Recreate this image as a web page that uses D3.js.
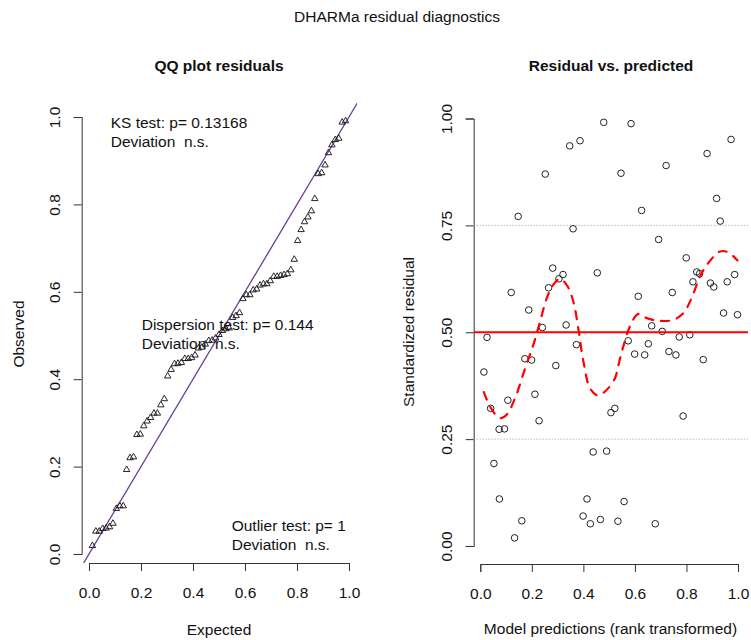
<!DOCTYPE html>
<html>
<head>
<meta charset="utf-8">
<script src="https://cdn.jsdelivr.net/npm/d3@7"></script>
<style>
  html, body { margin: 0; padding: 0; background: #fff; }
  svg { display: block; font-family: "Liberation Sans", Arial, Helvetica, sans-serif; }
  text { fill: #111; white-space: pre; }
</style>
</head>
<body>
<svg id="chart" width="751" height="640"></svg>
<script>
// Rank-transformed model predictions (x of the residual plot)
const predRank = [0.014,0.026,0.040,0.053,0.073,0.074,0.094,0.107,0.120,0.133,
  0.147,0.161,0.173,0.188,0.199,0.212,0.228,0.241,0.252,0.265,
  0.281,0.293,0.305,0.321,0.333,0.347,0.360,0.373,0.387,0.399,
  0.414,0.427,0.438,0.454,0.466,0.479,0.490,0.507,0.522,0.534,
  0.546,0.558,0.574,0.585,0.599,0.613,0.626,0.638,0.652,0.665,
  0.679,0.692,0.706,0.721,0.732,0.745,0.759,0.772,0.787,0.799,
  0.813,0.825,0.840,0.851,0.865,0.880,0.893,0.906,0.917,0.931,
  0.944,0.958,0.973,0.987,0.998];

// Scaled (standardized) residuals, same order as predRank
const residuals = [0.407,0.488,0.322,0.193,0.273,0.110,0.274,0.341,0.593,0.019,
  0.771,0.059,0.438,0.552,0.435,0.355,0.293,0.511,0.870,0.604,
  0.650,0.422,0.625,0.635,0.517,0.936,0.742,0.471,0.948,0.070,
  0.110,0.052,0.220,0.639,0.062,0.991,0.222,0.312,0.322,0.058,
  0.872,0.104,0.480,0.988,0.449,0.584,0.785,0.447,0.473,0.515,
  0.052,0.717,0.502,0.890,0.455,0.593,0.447,0.489,0.304,0.674,
  0.494,0.618,0.641,0.637,0.436,0.918,0.615,0.606,0.813,0.760,
  0.545,0.618,0.951,0.635,0.541];

// Smoothing spline through the residuals (x, fitted value)
const splineX = [0.014,0.038,0.076,0.102,0.135,0.174,0.206,0.232,0.258,0.283,
  0.309,0.335,0.361,0.380,0.400,0.426,0.456,0.490,0.523,0.533,
  0.555,0.581,0.613,0.646,0.691,0.749,0.788,0.820,0.853,0.885,
  0.930,0.962,0.998];
const splineY = [0.360,0.326,0.299,0.307,0.346,0.416,0.471,0.525,0.580,0.611,
  0.625,0.611,0.572,0.510,0.432,0.369,0.352,0.365,0.393,0.416,
  0.467,0.514,0.543,0.533,0.527,0.529,0.545,0.580,0.631,0.662,
  0.689,0.687,0.668];

// Tick values and labels
const qqTicks = [0, 0.2, 0.4, 0.6, 0.8, 1.0];
const resYTicks = [0, 0.25, 0.5, 0.75, 1.0];
const quantileLines = [0.25, 0.75];

// Test annotations
const ksText = ["KS test: p= 0.13168", "Deviation  n.s."];
const dispText = ["Dispersion test: p= 0.144", "Deviation  n.s."];
const outText = ["Outlier test: p= 1", "Deviation  n.s."];

const svg = d3.select("#chart");
const FS = "15.5px";

// ---------- layout ----------
const L = { left: 81.7, right: 357, top: 103, bottom: 563 };
const R = { left: 473.7, right: 748, top: 100, bottom: 564 };

const xL = d3.scaleLinear().domain([0, 1]).range([89, 349]);
const yL = d3.scaleLinear().domain([0, 1]).range([554, 117]);
const xR = d3.scaleLinear().domain([0, 1]).range([480.3, 738]);
const yR = d3.scaleLinear().domain([0, 1]).range([546, 118.5]);

const defs = svg.append("defs");
defs.append("clipPath").attr("id", "clipL").append("rect")
  .attr("x", L.left).attr("y", L.top).attr("width", L.right - L.left).attr("height", L.bottom - L.top);
defs.append("clipPath").attr("id", "clipR").append("rect")
  .attr("x", R.left).attr("y", R.top).attr("width", R.right - R.left).attr("height", R.bottom - R.top);

// ---------- titles ----------
svg.append("text").attr("x", 397).attr("y", 22).attr("text-anchor", "middle")
  .style("font-size", FS).text("DHARMa residual diagnostics");
svg.append("text").attr("x", 219).attr("y", 70.5).attr("text-anchor", "middle")
  .style("font-size", FS).style("font-weight", "bold").text("QQ plot residuals");
svg.append("text").attr("x", 611).attr("y", 70.5).attr("text-anchor", "middle")
  .style("font-size", FS).style("font-weight", "bold").text("Residual vs. predicted");

// ---------- axis helpers ----------
function styleAxis(g) {
  g.selectAll("path.domain").attr("stroke", "#333").attr("stroke-width", 1);
  g.selectAll(".tick line").attr("stroke", "#333").attr("stroke-width", 1);
  g.selectAll(".tick text").style("font-size", FS).style("font-family", "inherit").attr("fill", "#111");
}
function bottomAxis(scale, yPos, fmt) {
  const g = svg.append("g").attr("transform", `translate(0,${yPos})`)
    .call(d3.axisBottom(scale).tickValues(qqTicks).tickFormat(fmt).tickSizeOuter(0).tickSize(8));
  styleAxis(g);
  g.selectAll(".tick text").attr("y", 35).attr("dy", 0);
  return g;
}
function leftAxis(scale, xPos, ticks, fmt) {
  const g = svg.append("g").attr("transform", `translate(${xPos},0)`)
    .call(d3.axisLeft(scale).tickValues(ticks).tickFormat(fmt).tickSizeOuter(0).tickSize(8));
  styleAxis(g);
  g.selectAll(".tick text").attr("x", 0).attr("y", 0).attr("dy", 0)
    .attr("text-anchor", "middle").attr("transform", "translate(-21.7,0) rotate(-90)");
  return g;
}

// ---------- left panel: QQ plot ----------
bottomAxis(xL, L.bottom, d3.format(".1f"));
leftAxis(yL, L.left, qqTicks, d3.format(".1f"));

svg.append("text").attr("x", 219).attr("y", 635).attr("text-anchor", "middle")
  .style("font-size", FS).text("Expected");
svg.append("text").attr("transform", "translate(23.5,334) rotate(-90)").attr("text-anchor", "middle")
  .style("font-size", FS).text("Observed");

const observed = residuals.slice().sort(d3.ascending);
const n = observed.length;
const qq = observed.map((v, i) => ({ e: (i + 1) / (n + 1), o: v }));

const gL = svg.append("g").attr("clip-path", "url(#clipL)");
gL.append("path")
  .datum([-0.2, 1.2])
  .attr("d", d3.line().x(d => xL(d)).y(d => yL(d)))
  .attr("stroke", "#6a3d9a").attr("stroke-width", 1.3).attr("fill", "none");

gL.selectAll("path.tri").data(qq).join("path")
  .attr("class", "tri")
  .attr("transform", d => `translate(${xL(d.e)},${yL(d.o)})`)
  .attr("d", d3.symbol(d3.symbolTriangle, 18)())
  .attr("fill", "none").attr("stroke", "#1a1a1a").attr("stroke-width", 0.95);

function annot(lines, x, y0, dy) {
  lines.forEach((t, i) => {
    svg.append("text").attr("x", x).attr("y", y0 + i * dy).style("font-size", FS).text(t);
  });
}
annot(ksText, 110.7, 128, 19);
annot(dispText, 141.7, 329.5, 19);
annot(outText, 231.7, 531, 19);

// ---------- right panel: residual vs predicted ----------
bottomAxis(xR, R.bottom, d3.format(".1f"));
leftAxis(yR, R.left, resYTicks, d3.format(".2f"));

svg.append("text").attr("x", 610.5).attr("y", 634).attr("text-anchor", "middle")
  .style("font-size", FS).text("Model predictions (rank transformed)");
svg.append("text").attr("transform", "translate(413.5,332) rotate(-90)").attr("text-anchor", "middle")
  .style("font-size", FS).text("Standardized residual");

const gR = svg.append("g").attr("clip-path", "url(#clipR)");
gR.selectAll("line.q").data(quantileLines).join("line")
  .attr("class", "q")
  .attr("x1", R.left).attr("x2", R.right)
  .attr("y1", d => yR(d)).attr("y2", d => yR(d))
  .attr("stroke", "#9a9a9a").attr("stroke-width", 1).attr("stroke-dasharray", "1,2");

gR.selectAll("circle").data(predRank.map((x, i) => ({ x, y: residuals[i] }))).join("circle")
  .attr("cx", d => xR(d.x)).attr("cy", d => yR(d.y)).attr("r", 3.3)
  .attr("fill", "none").attr("stroke", "#222").attr("stroke-width", 1);

gR.append("line")
  .attr("x1", R.left).attr("x2", R.right)
  .attr("y1", yR(0.5)).attr("y2", yR(0.5))
  .attr("stroke", "#ff0000").attr("stroke-width", 2.2);

gR.append("path")
  .datum(splineX.map((x, i) => [x, splineY[i]]))
  .attr("d", d3.line().x(d => xR(d[0])).y(d => yR(d[1])).curve(d3.curveCatmullRom.alpha(0.5)))
  .attr("fill", "none").attr("stroke", "#ff0000").attr("stroke-width", 2.2)
  .attr("stroke-dasharray", "8,8").attr("stroke-linecap", "round");
</script>
</body>
</html>
